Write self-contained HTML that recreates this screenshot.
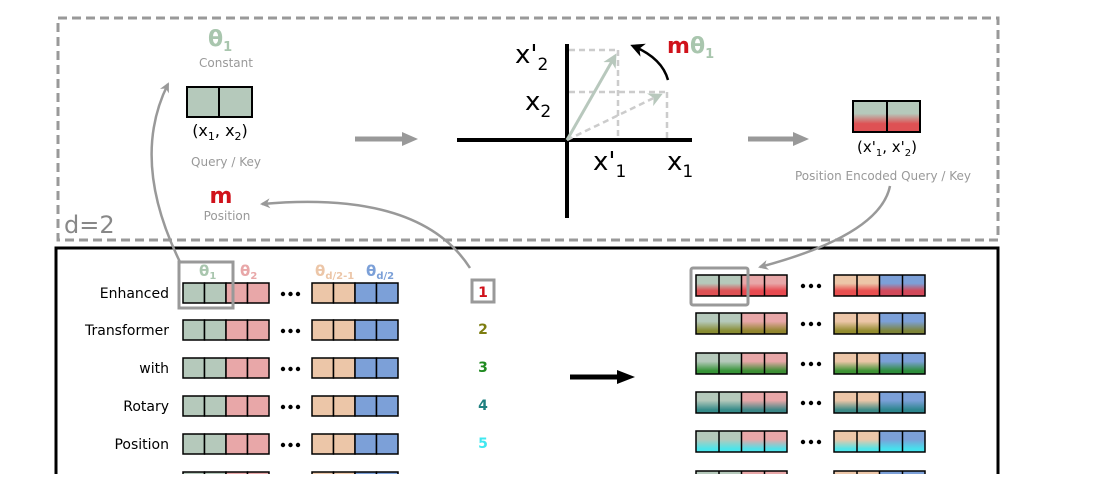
<!DOCTYPE html>
<html><head><meta charset="utf-8"><style>
html,body{margin:0;padding:0;background:#fff;}
svg text{font-family:"DejaVu Sans","Liberation Sans",sans-serif;}
</style></head><body>
<svg width="1115" height="474" viewBox="0 0 1115 474" xmlns="http://www.w3.org/2000/svg">
<defs>
<marker id="ga" markerWidth="10" markerHeight="10" refX="8" refY="5" orient="auto" markerUnits="userSpaceOnUse"><path d="M0,0 L10,5 L0,10 L3,5 z" fill="#999"/></marker>
<marker id="gb" markerWidth="14" markerHeight="14" refX="11" refY="7" orient="auto" markerUnits="userSpaceOnUse"><path d="M0,0 L14,7 L0,14 L4,7 z" fill="#b8c8bd"/></marker>
<marker id="ka" markerWidth="14" markerHeight="14" refX="11" refY="7" orient="auto" markerUnits="userSpaceOnUse"><path d="M0,0 L14,7 L0,14 L4,7 z" fill="#000"/></marker>
<linearGradient id="gr1" x1="0" y1="0" x2="0" y2="1"><stop offset="0.4" stop-opacity="0" stop-color="#e8333a"/><stop offset="0.75" stop-color="#e8333a" stop-opacity="0.8"/></linearGradient>
<linearGradient id="gr2" x1="0" y1="0" x2="0" y2="1"><stop offset="0.4" stop-opacity="0" stop-color="#7d7d10"/><stop offset="0.85" stop-color="#7d7d10" stop-opacity="0.8"/></linearGradient>
<linearGradient id="gr3" x1="0" y1="0" x2="0" y2="1"><stop offset="0.4" stop-opacity="0" stop-color="#1f8a20"/><stop offset="0.85" stop-color="#1f8a20" stop-opacity="0.85"/></linearGradient>
<linearGradient id="gr4" x1="0" y1="0" x2="0" y2="1"><stop offset="0.4" stop-opacity="0" stop-color="#1f8080"/><stop offset="0.85" stop-color="#1f8080" stop-opacity="0.85"/></linearGradient>
<linearGradient id="gr5" x1="0" y1="0" x2="0" y2="1"><stop offset="0.4" stop-opacity="0" stop-color="#40e8f0"/><stop offset="0.85" stop-color="#40e8f0" stop-opacity="0.9"/></linearGradient>
<g id="L" stroke="#000" stroke-width="1.5">
<rect x="183" y="0" width="21.5" height="20" fill="#b5c9bb"/><rect x="204.5" y="0" width="21.5" height="20" fill="#b5c9bb"/><rect x="226" y="0" width="21.5" height="20" fill="#e8a7a8"/><rect x="247.5" y="0" width="21.5" height="20" fill="#e8a7a8"/>
<rect x="312" y="0" width="21.5" height="20" fill="#ecc6a8"/><rect x="333.5" y="0" width="21.5" height="20" fill="#ecc6a8"/><rect x="355" y="0" width="21.5" height="20" fill="#7ca0d8"/><rect x="376.5" y="0" width="21.5" height="20" fill="#7ca0d8"/>
</g>
<g id="R0">
<rect x="696" y="0" width="23" height="21" fill="#b5c9bb"/><rect x="719" y="0" width="22.5" height="21" fill="#b5c9bb"/><rect x="741.5" y="0" width="23" height="21" fill="#e8a7a8"/><rect x="764.5" y="0" width="22.5" height="21" fill="#e8a7a8"/>
<rect x="834" y="0" width="23" height="21" fill="#ecc6a8"/><rect x="857" y="0" width="22.5" height="21" fill="#ecc6a8"/><rect x="879.5" y="0" width="23" height="21" fill="#7ca0d8"/><rect x="902.5" y="0" width="22.5" height="21" fill="#7ca0d8"/>
</g>
<g id="RO" fill="none" stroke="#000" stroke-width="1.5">
<rect x="696" y="0" width="91" height="21"/><line x1="719" y1="0" x2="719" y2="21"/><line x1="741.5" y1="0" x2="741.5" y2="21"/><line x1="764.5" y1="0" x2="764.5" y2="21"/>
<rect x="834" y="0" width="91" height="21"/><line x1="857" y1="0" x2="857" y2="21"/><line x1="879.5" y1="0" x2="879.5" y2="21"/><line x1="902.5" y1="0" x2="902.5" y2="21"/>
</g>
</defs>

<rect x="58" y="18" width="940" height="222" fill="none" stroke="#999" stroke-width="3" stroke-dasharray="9,5"/>
<text x="64" y="233" font-size="24" fill="#888">d=2</text>

<text x="208" y="46" font-size="22" font-weight="bold" fill="#a9c6ae">θ<tspan font-size="13" dy="5">1</tspan></text>
<text x="226" y="67" font-size="12" fill="#999" text-anchor="middle">Constant</text>
<rect x="187" y="87" width="32" height="30" fill="#b5c9bb" stroke="#000" stroke-width="2"/>
<rect x="219" y="87" width="33" height="30" fill="#b5c9bb" stroke="#000" stroke-width="2"/>
<text x="220" y="136" font-size="16" fill="#000" text-anchor="middle">(x<tspan font-size="11" dy="4">1</tspan><tspan dy="-4">, x</tspan><tspan font-size="11" dy="4">2</tspan><tspan dy="-4">)</tspan></text>
<text x="226" y="166" font-size="12" fill="#999" text-anchor="middle">Query / Key</text>
<text x="221" y="203" font-size="22" font-weight="bold" fill="#d0121b" text-anchor="middle">m</text>
<text x="227" y="220" font-size="12" fill="#999" text-anchor="middle">Position</text>

<line x1="355" y1="139" x2="405" y2="139" stroke="#999" stroke-width="5"/>
<path d="M402,132 L418,139 L402,146 z" fill="#999"/>
<line x1="748" y1="139" x2="796" y2="139" stroke="#999" stroke-width="5"/>
<path d="M793,132 L809,139 L793,146 z" fill="#999"/>

<line x1="457" y1="140" x2="692" y2="140" stroke="#000" stroke-width="4"/>
<line x1="567" y1="44" x2="567" y2="218" stroke="#000" stroke-width="4"/>
<g stroke="#ccc" stroke-width="2.5" stroke-dasharray="6,4" fill="none">
<line x1="569" y1="50" x2="618" y2="50"/>
<line x1="569" y1="92" x2="667" y2="92"/>
<line x1="618" y1="50" x2="618" y2="138"/>
<line x1="667" y1="92" x2="667" y2="138"/>
<line x1="567" y1="140" x2="660" y2="95" marker-end="url(#gb)"/>
</g>
<line x1="567" y1="140" x2="615" y2="56" stroke="#b8c8bd" stroke-width="3" marker-end="url(#gb)"/>
<path d="M668,80 Q662,58 633,46" fill="none" stroke="#000" stroke-width="2.5" marker-end="url(#ka)"/>
<text x="667" y="53" font-size="22" font-weight="bold" fill="#d0121b">m<tspan fill="#a9c6ae">θ<tspan font-size="13" dy="5">1</tspan></tspan></text>
<text x="515" y="63" font-size="26" fill="#000">x'<tspan font-size="17" dy="7">2</tspan></text>
<text x="525" y="110" font-size="26" fill="#000">x<tspan font-size="17" dy="7">2</tspan></text>
<text x="593" y="170" font-size="26" fill="#000">x'<tspan font-size="17" dy="7">1</tspan></text>
<text x="667" y="170" font-size="26" fill="#000">x<tspan font-size="17" dy="7">1</tspan></text>

<rect x="853" y="101" width="34" height="31" fill="#b5c9bb" stroke="#000" stroke-width="2"/>
<rect x="887" y="101" width="33" height="31" fill="#b5c9bb" stroke="#000" stroke-width="2"/>
<rect x="854" y="102" width="65" height="29" fill="url(#gr1)"/>
<line x1="887" y1="101" x2="887" y2="132" stroke="#000" stroke-width="2"/>
<text x="887" y="152" font-size="15" fill="#000" text-anchor="middle">(x'<tspan font-size="10" dy="4">1</tspan><tspan dy="-4">, x'</tspan><tspan font-size="10" dy="4">2</tspan><tspan dy="-4">)</tspan></text>
<text x="883" y="180" font-size="12" fill="#999" text-anchor="middle">Position Encoded Query / Key</text>

<rect x="56" y="248" width="942" height="240" fill="none" stroke="#000" stroke-width="3"/>

<path d="M180,262 Q130,160 168,84" fill="none" stroke="#999" stroke-width="2.5" marker-end="url(#ga)"/>
<path d="M470,268 Q420,190 262,204" fill="none" stroke="#999" stroke-width="2.5" marker-end="url(#ga)"/>
<path d="M890,186 Q880,235 760,267" fill="none" stroke="#999" stroke-width="2.5" marker-end="url(#ga)"/>

<text x="199" y="276" font-size="15" font-weight="bold" fill="#a9c6ae">θ<tspan font-size="10" dy="3">1</tspan></text>
<text x="240" y="276" font-size="15" font-weight="bold" fill="#e8a7a8">θ<tspan font-size="10" dy="3">2</tspan></text>
<text x="315" y="276" font-size="15" font-weight="bold" fill="#ecc6a8">θ<tspan font-size="10" dy="3">d/2-1</tspan></text>
<text x="366" y="276" font-size="15" font-weight="bold" fill="#7ca0d8">θ<tspan font-size="10" dy="3">d/2</tspan></text>

<g font-size="14" fill="#000" text-anchor="end">
<text x="169" y="298">Enhanced</text>
<text x="169" y="335">Transformer</text>
<text x="169" y="373">with</text>
<text x="169" y="411">Rotary</text>
<text x="169" y="449">Position</text>
</g>

<use href="#L" y="283"/><use href="#L" y="320"/><use href="#L" y="358"/><use href="#L" y="396"/><use href="#L" y="434"/><use href="#L" y="472"/>
<g fill="#000">
<circle cx="283" cy="294" r="2.2"/><circle cx="290.5" cy="294" r="2.2"/><circle cx="298" cy="294" r="2.2"/>
<circle cx="283" cy="331" r="2.2"/><circle cx="290.5" cy="331" r="2.2"/><circle cx="298" cy="331" r="2.2"/>
<circle cx="283" cy="369" r="2.2"/><circle cx="290.5" cy="369" r="2.2"/><circle cx="298" cy="369" r="2.2"/>
<circle cx="283" cy="407" r="2.2"/><circle cx="290.5" cy="407" r="2.2"/><circle cx="298" cy="407" r="2.2"/>
<circle cx="283" cy="445" r="2.2"/><circle cx="290.5" cy="445" r="2.2"/><circle cx="298" cy="445" r="2.2"/>
<circle cx="803" cy="286" r="2.2"/><circle cx="811" cy="286" r="2.2"/><circle cx="819" cy="286" r="2.2"/>
<circle cx="803" cy="324" r="2.2"/><circle cx="811" cy="324" r="2.2"/><circle cx="819" cy="324" r="2.2"/>
<circle cx="803" cy="364" r="2.2"/><circle cx="811" cy="364" r="2.2"/><circle cx="819" cy="364" r="2.2"/>
<circle cx="803" cy="403" r="2.2"/><circle cx="811" cy="403" r="2.2"/><circle cx="819" cy="403" r="2.2"/>
<circle cx="803" cy="442" r="2.2"/><circle cx="811" cy="442" r="2.2"/><circle cx="819" cy="442" r="2.2"/>
</g>
<rect x="179" y="262" width="54" height="46" fill="none" stroke="#999" stroke-width="3"/>

<rect x="472" y="280" width="22" height="22" fill="none" stroke="#999" stroke-width="3"/>
<g font-size="14" font-weight="bold" text-anchor="middle">
<text x="483" y="297" fill="#d0121b">1</text>
<text x="483" y="334" fill="#7d7d10">2</text>
<text x="483" y="372" fill="#1f8a20">3</text>
<text x="483" y="410" fill="#1f8080">4</text>
<text x="483" y="448" fill="#40e8f0">5</text>
</g>

<line x1="570" y1="377" x2="620" y2="377" stroke="#000" stroke-width="5"/>
<path d="M617,370 L635,377 L617,384 z" fill="#000"/>

<use href="#R0" y="275"/><rect x="696" y="275" width="91" height="21" fill="url(#gr1)"/><rect x="834" y="275" width="91" height="21" fill="url(#gr1)"/><use href="#RO" y="275"/>
<use href="#R0" y="313"/><rect x="696" y="313" width="91" height="21" fill="url(#gr2)"/><rect x="834" y="313" width="91" height="21" fill="url(#gr2)"/><use href="#RO" y="313"/>
<use href="#R0" y="353"/><rect x="696" y="353" width="91" height="21" fill="url(#gr3)"/><rect x="834" y="353" width="91" height="21" fill="url(#gr3)"/><use href="#RO" y="353"/>
<use href="#R0" y="392"/><rect x="696" y="392" width="91" height="21" fill="url(#gr4)"/><rect x="834" y="392" width="91" height="21" fill="url(#gr4)"/><use href="#RO" y="392"/>
<use href="#R0" y="431"/><rect x="696" y="431" width="91" height="21" fill="url(#gr5)"/><rect x="834" y="431" width="91" height="21" fill="url(#gr5)"/><use href="#RO" y="431"/>
<use href="#R0" y="471"/><use href="#RO" y="471"/>
<rect x="691" y="268" width="57" height="37" rx="2" fill="none" stroke="#999" stroke-width="3"/>
</svg>
</body></html>
